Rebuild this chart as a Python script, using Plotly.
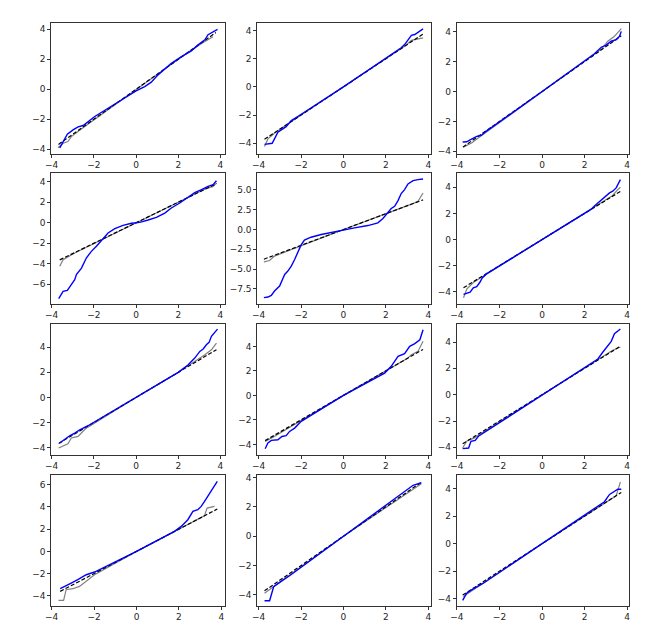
import plotly.graph_objects as go

# ---------------- data ----------------
P1_BLUE_X = [-3.62, -3.46, -3.26, -2.99, -2.75, -2.51, -2.28, -1.96, -1.33, -0.54, 0.0, 0.41, 0.72, 1.04, 1.67, 2.15, 2.62, 2.94, 3.26, 3.41, 3.57, 3.86]
P1_BLUE_Y = [-3.91, -3.49, -3.0, -2.71, -2.51, -2.42, -2.16, -1.82, -1.27, -0.56, -0.11, 0.18, 0.47, 0.96, 1.73, 2.18, 2.56, 2.96, 3.3, 3.64, 3.78, 4.0]
P1_GRAY_X = [-3.7, -3.46, -3.23, -3.07, -2.5, 0.0, 2.5, 3.26, 3.65]
P1_GRAY_Y = [-3.9, -3.6, -3.49, -3.16, -2.55, 0.0, 2.5, 3.18, 3.5]
P1_REF = [-3.68, 3.78]

P2_BLUE_X = [-3.72, -3.56, -3.36, -3.25, -3.09, -2.93, -2.7, -2.46, -2.1, 0.0, 2.72, 2.88, 3.04, 3.2, 3.36, 3.55, 3.75]
P2_BLUE_Y = [-4.08, -4.04, -4.0, -3.69, -3.22, -3.05, -2.82, -2.39, -2.05, 0.0, 2.77, 3.0, 3.36, 3.66, 3.71, 3.9, 4.11]
P2_GRAY_X = [-3.72, -3.56, -3.25, -2.85, 0.0, 2.9, 3.2, 3.75]
P2_GRAY_Y = [-4.23, -3.69, -3.29, -2.86, 0.0, 2.9, 3.3, 3.47]
P2_REF = [-3.72, 3.75]

P3_BLUE_X = [-3.73, -3.54, -3.38, -3.23, -3.07, -2.86, -2.68, 0.0, 2.46, 2.78, 3.01, 3.25, 3.48, 3.64, 3.72]
P3_BLUE_Y = [-3.38, -3.36, -3.23, -3.1, -3.0, -2.94, -2.72, 0.0, 2.52, 2.96, 3.1, 3.36, 3.47, 3.69, 4.02]
P3_GRAY_X = [-3.7, -3.31, -2.84, 0.0, 2.8, 3.09, 3.4, 3.72]
P3_GRAY_Y = [-3.72, -3.45, -2.94, 0.0, 2.85, 3.36, 3.69, 4.2]
P3_REF = [-3.72, 3.72]

P4_BLUE_X = [-3.67, -3.46, -3.26, -3.07, -2.91, -2.83, -2.59, -2.36, -2.12, -1.88, -1.56, -1.33, -1.01, -0.62, -0.22, 0.17, 0.57, 0.96, 1.36, 1.67, 2.07, 2.46, 2.78, 3.1, 3.41, 3.65, 3.81]
P4_BLUE_Y = [-7.4, -6.69, -6.59, -6.04, -5.55, -5.06, -4.42, -3.44, -2.79, -2.3, -1.49, -1.0, -0.58, -0.26, -0.06, 0.03, 0.26, 0.52, 0.94, 1.43, 1.92, 2.47, 2.92, 3.21, 3.54, 3.7, 4.09]
P4_GRAY_X = [-3.62, -3.46, -2.91, 0.0, 3.3, 3.65, 3.81]
P4_GRAY_Y = [-4.25, -3.6, -2.95, 0.0, 3.3, 3.54, 3.86]
P4_REF = [-3.62, 3.81]

P5_BLUE_X = [-3.75, -3.56, -3.4, -3.25, -3.01, -2.9, -2.77, -2.62, -2.46, -2.3, -2.14, -2.0, -1.84, -1.53, -1.05, -0.42, 0.0, 0.52, 1.15, 1.62, 1.86, 2.06, 2.25, 2.41, 2.57, 2.72, 2.88, 3.04, 3.28, 3.51, 3.75]
P5_BLUE_Y = [-8.61, -8.53, -8.32, -7.77, -7.14, -6.51, -5.67, -5.25, -4.62, -3.78, -2.82, -1.97, -1.34, -0.97, -0.63, -0.29, 0.0, 0.21, 0.5, 0.84, 1.39, 2.1, 2.65, 2.94, 3.66, 4.54, 5.04, 5.76, 6.18, 6.3, 6.39]
P5_GRAY_X = [-3.75, -3.48, -3.25, 0.0, 3.3, 3.51, 3.75]
P5_GRAY_Y = [-4.08, -3.91, -3.36, 0.0, 3.3, 3.57, 4.62]
P5_REF = [-3.75, 3.75]

P6_BLUE_X = [-3.69, -3.53, -3.38, -3.23, -3.07, -2.92, -2.81, -2.61, 0.0, 2.3, 2.46, 2.7, 2.93, 3.17, 3.32, 3.48, 3.68]
P6_BLUE_Y = [-4.2, -4.1, -4.03, -3.7, -3.6, -3.27, -2.94, -2.63, 0.0, 2.3, 2.56, 2.89, 3.19, 3.57, 3.7, 3.95, 4.58]
P6_GRAY_X = [-3.69, -3.53, -3.2, 0.0, 3.3, 3.56, 3.68]
P6_GRAY_Y = [-4.46, -3.77, -3.25, 0.0, 3.35, 3.82, 4.0]
P6_REF = [-3.69, 3.68]

P7_BLUE_X = [-3.62, -3.3, -3.15, -2.91, -2.67, -2.28, 0.0, 2.0, 2.47, 2.78, 3.02, 3.18, 3.33, 3.46, 3.57, 3.86]
P7_BLUE_Y = [-3.64, -3.24, -3.06, -2.85, -2.58, -2.26, 0.0, 2.0, 2.61, 3.14, 3.67, 3.86, 4.2, 4.39, 4.87, 5.45]
P7_GRAY_X = [-3.67, -3.23, -3.07, -2.75, -2.4, 0.0, 2.0, 2.94, 3.26, 3.57, 3.81]
P7_GRAY_Y = [-4.04, -3.7, -3.24, -3.11, -2.5, 0.0, 2.0, 3.0, 3.4, 3.8, 4.33]
P7_REF = [-3.67, 3.81]

P8_BLUE_X = [-3.69, -3.56, -3.4, -3.09, -2.9, -2.7, -2.54, -2.3, -1.99, 0.0, 1.94, 2.25, 2.57, 2.88, 3.12, 3.36, 3.6, 3.75]
P8_BLUE_Y = [-4.35, -3.89, -3.67, -3.62, -3.35, -3.29, -2.94, -2.67, -2.12, 0.0, 1.82, 2.37, 3.18, 3.4, 4.0, 4.22, 4.54, 5.36]
P8_GRAY_X = [-3.69, -3.3, 0.0, 3.0, 3.2, 3.51, 3.75]
P8_GRAY_Y = [-3.76, -3.4, 0.0, 3.0, 3.32, 3.59, 4.41]
P8_REF = [-3.69, 3.75]

P9_BLUE_X = [-3.73, -3.45, -3.34, -3.14, -2.99, 0.0, 2.62, 2.85, 3.09, 3.25, 3.4, 3.68]
P9_BLUE_Y = [-4.1, -4.05, -3.54, -3.47, -3.16, 0.0, 2.71, 3.22, 3.67, 4.05, 4.63, 4.99]
P9_GRAY_X = [-3.73, -3.54, -3.2, 0.0, 3.3, 3.68]
P9_GRAY_Y = [-4.05, -3.54, -3.3, 0.0, 3.35, 3.62]
P9_REF = [-3.73, 3.68]

P10_BLUE_X = [-3.6, -3.32, -3.08, -2.77, -2.37, -1.98, 0.0, 1.79, 2.11, 2.42, 2.66, 2.89, 3.05, 3.21, 3.52, 3.81]
P10_BLUE_Y = [-3.36, -3.06, -2.85, -2.55, -2.1, -1.86, 0.0, 1.8, 2.25, 2.85, 3.6, 3.75, 4.05, 4.5, 5.41, 6.31]
P10_GRAY_X = [-3.68, -3.44, -3.32, -3.0, -2.69, -2.37, -1.98, 0.0, 3.2, 3.33, 3.68]
P10_GRAY_Y = [-4.41, -4.41, -3.45, -3.36, -3.15, -2.7, -2.1, 0.0, 3.2, 3.9, 4.05]
P10_REF = [-3.6, 3.81]

P11_BLUE_X = [-3.72, -3.48, -3.29, -3.09, -2.85, -2.54, 0.0, 3.04, 3.28, 3.67]
P11_BLUE_Y = [-4.39, -4.39, -3.44, -3.21, -2.99, -2.69, 0.0, 3.19, 3.46, 3.64]
P11_GRAY_X = [-3.72, -3.4, 0.0, 3.67]
P11_GRAY_Y = [-3.89, -3.55, 0.0, 3.57]
P11_REF = [-3.72, 3.67]

P12_BLUE_X = [-3.73, -3.54, -3.31, -2.99, -2.76, 0.0, 2.62, 2.93, 3.17, 3.4, 3.56, 3.72]
P12_BLUE_Y = [-4.12, -3.59, -3.35, -3.06, -2.87, 0.0, 2.67, 3.04, 3.57, 3.81, 3.95, 3.95]
P12_GRAY_X = [-3.7, -3.31, -3.12, 0.0, 3.48, 3.68]
P12_GRAY_Y = [-3.83, -3.42, -3.23, 0.0, 3.47, 4.48]
P12_REF = [-3.73, 3.72]

X_TICKS = [-4, -2, 0, 2, 4]
Y_TICKS_STD = [-4, -2, 0, 2, 4]
Y_TICKS_P4 = [-6, -4, -2, 0, 2, 4]
Y_TICKS_P5 = [-7.5, -5.0, -2.5, 0.0, 2.5, 5.0]
Y_TICKS_P10 = [-4, -2, 0, 2, 4, 6]

# ---------------- layout helpers ----------------
W, H = 654, 628
COL_PX = [(43.3, 216.7), (249.3, 422.7), (448.7, 620.7)]
ROW_PX = [(15.0, 145.7), (165.0, 295.7), (315.7, 446.7), (467.3, 597.7)]

XRANGES = [(-4.02, 4.2), (-4.06, 4.11), (-4.01, 4.07),
           (-4.02, 4.2), (-4.06, 4.11), (-4.01, 4.07),
           (-4.02, 4.2), (-4.06, 4.11), (-4.01, 4.07),
           (-4.02, 4.16), (-4.06, 4.11), (-4.01, 4.07)]
YRANGES = [(-4.3, 4.42), (-4.74, 4.53), (-4.16, 4.58),
           (-7.89, 4.84), (-9.37, 7.14), (-4.91, 5.09),
           (-4.57, 5.88), (-4.84, 5.85), (-4.56, 5.39),
           (-4.89, 6.85), (-4.73, 4.14), (-4.5, 4.96)]

panels = [
    (P1_BLUE_X, P1_BLUE_Y, P1_GRAY_X, P1_GRAY_Y, P1_REF, Y_TICKS_STD),
    (P2_BLUE_X, P2_BLUE_Y, P2_GRAY_X, P2_GRAY_Y, P2_REF, Y_TICKS_STD),
    (P3_BLUE_X, P3_BLUE_Y, P3_GRAY_X, P3_GRAY_Y, P3_REF, Y_TICKS_STD),
    (P4_BLUE_X, P4_BLUE_Y, P4_GRAY_X, P4_GRAY_Y, P4_REF, Y_TICKS_P4),
    (P5_BLUE_X, P5_BLUE_Y, P5_GRAY_X, P5_GRAY_Y, P5_REF, Y_TICKS_P5),
    (P6_BLUE_X, P6_BLUE_Y, P6_GRAY_X, P6_GRAY_Y, P6_REF, Y_TICKS_STD),
    (P7_BLUE_X, P7_BLUE_Y, P7_GRAY_X, P7_GRAY_Y, P7_REF, Y_TICKS_STD),
    (P8_BLUE_X, P8_BLUE_Y, P8_GRAY_X, P8_GRAY_Y, P8_REF, Y_TICKS_STD),
    (P9_BLUE_X, P9_BLUE_Y, P9_GRAY_X, P9_GRAY_Y, P9_REF, Y_TICKS_STD),
    (P10_BLUE_X, P10_BLUE_Y, P10_GRAY_X, P10_GRAY_Y, P10_REF, Y_TICKS_P10),
    (P11_BLUE_X, P11_BLUE_Y, P11_GRAY_X, P11_GRAY_Y, P11_REF, Y_TICKS_STD),
    (P12_BLUE_X, P12_BLUE_Y, P12_GRAY_X, P12_GRAY_Y, P12_REF, Y_TICKS_STD),
]

fig = go.Figure()
layout = {}
FONT = dict(family="DejaVu Sans", size=9, color="#262626")

for i, (bx, by, gx, gy, ref, yticks) in enumerate(panels):
    k = i + 1
    r, c = divmod(i, 3)
    xs = "x" if k == 1 else f"x{k}"
    ys = "y" if k == 1 else f"y{k}"
    xa = "xaxis" if k == 1 else f"xaxis{k}"
    ya = "yaxis" if k == 1 else f"yaxis{k}"

    fig.add_trace(go.Scatter(x=gx, y=gy, mode="lines", line=dict(color="gray", width=1.2),
                             xaxis=xs, yaxis=ys, showlegend=False, hoverinfo="skip"))
    fig.add_trace(go.Scatter(x=ref, y=ref, mode="lines",
                             line=dict(color="black", width=1.2, dash="4px,2px"),
                             xaxis=xs, yaxis=ys, showlegend=False, hoverinfo="skip"))
    fig.add_trace(go.Scatter(x=bx, y=by, mode="lines", line=dict(color="blue", width=1.4),
                             xaxis=xs, yaxis=ys, showlegend=False, hoverinfo="skip"))

    x0, x1 = COL_PX[c]
    y0, y1 = ROW_PX[r]
    common = dict(showline=True, mirror=True, linecolor="#333333", linewidth=0.8,
                  ticks="outside", ticklen=3, tickwidth=0.8, tickcolor="#333333",
                  showgrid=False, zeroline=False, tickfont=FONT, fixedrange=True,
                  automargin=False)
    layout[xa] = dict(common, domain=[x0 / W, x1 / W], range=list(XRANGES[i]),
                      tickvals=X_TICKS, anchor=ys)
    yax = dict(common, domain=[1 - y1 / H, 1 - y0 / H], range=list(YRANGES[i]),
               tickvals=yticks, anchor=xs)
    if i == 4:
        yax["tickformat"] = ".1f"
    layout[ya] = yax

fig.update_layout(width=W, height=H, margin=dict(l=0, r=0, t=0, b=0, autoexpand=False),
                  plot_bgcolor="white", paper_bgcolor="white", showlegend=False,
                  **layout)

fig.write_html("out.html")
